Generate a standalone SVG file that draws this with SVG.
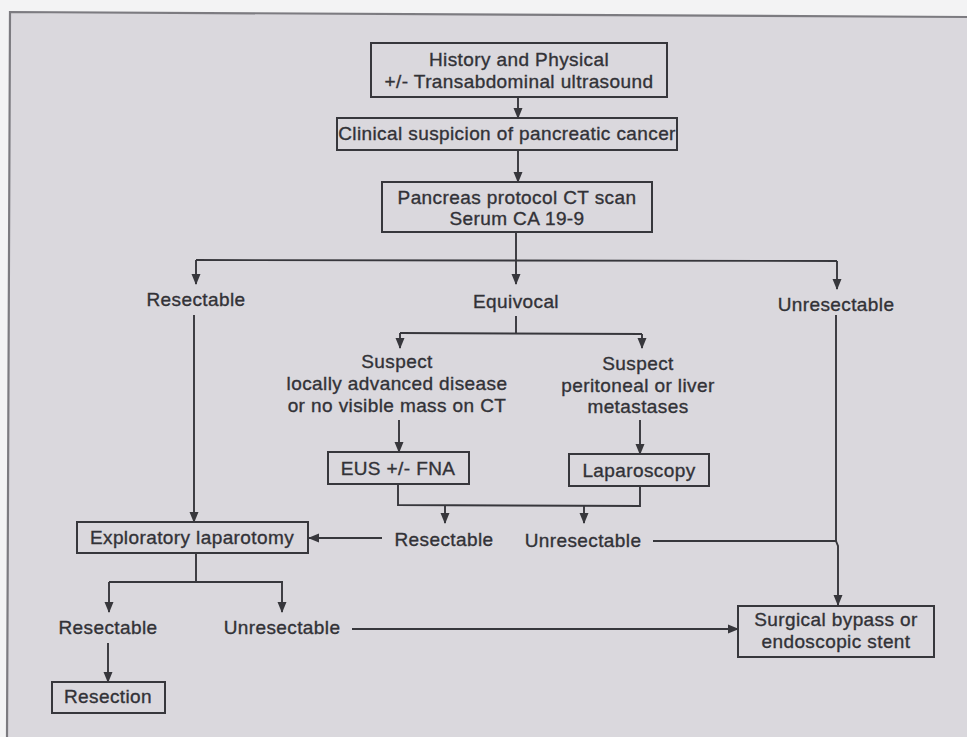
<svg xmlns="http://www.w3.org/2000/svg" width="967" height="737" viewBox="0 0 967 737">
  <defs>
    <marker id="arrow" markerUnits="userSpaceOnUse" markerWidth="11" markerHeight="10" refX="10" refY="5" orient="auto">
      <path d="M0,0.5 L11,5 L0,9.5 z" fill="#37373c"/>
    </marker>
    <style>
      .box { fill: none; stroke: #37373c; stroke-width: 2; }
      .line { fill: none; stroke: #37373c; stroke-width: 1.9; }
      .arr { fill: none; stroke: #37373c; stroke-width: 1.9; marker-end: url(#arrow); }
      text { font-family: "Liberation Sans", Arial, Helvetica, sans-serif; font-size: 19px; letter-spacing: 0.4px; fill: #323237; stroke: #323237; stroke-width: 0.35px; text-anchor: middle; }
    </style>
  </defs>

  <!-- page margin and printed panel -->
  <rect x="0" y="0" width="967" height="737" fill="#f3f3f4"/>
  <polygon points="10,12 967,17 967,737 7,737" fill="#dad8dd"/>
  <polyline points="7,737 10,12 967,17" fill="none" stroke="#7c7b80" stroke-width="2.2"/>

  <!-- connectors -->
  <g id="connectors">
    <line class="arr" x1="518" y1="97" x2="518" y2="118"/>
    <line class="arr" x1="518" y1="150" x2="518" y2="182"/>
    <line class="line" x1="516" y1="232" x2="516" y2="260"/>
    <polyline class="arr" points="196,260 196,284"/>
    <line class="line" x1="196" y1="260" x2="837" y2="261"/>
    <line class="arr" x1="516" y1="260" x2="516" y2="284"/>
    <polyline class="arr" points="837,261 837,289"/>

    <line class="line" x1="516" y1="316" x2="516" y2="333"/>
    <line class="line" x1="400" y1="333" x2="642" y2="334"/>
    <line class="arr" x1="400" y1="333" x2="400" y2="348"/>
    <line class="arr" x1="642" y1="334" x2="642" y2="348"/>

    <line class="arr" x1="399" y1="420" x2="399" y2="452"/>
    <line class="arr" x1="640" y1="420" x2="640" y2="454"/>

    <polyline class="line" points="398,484 398,505 640,506 640,486"/>
    <line class="arr" x1="445" y1="505" x2="445" y2="523"/>
    <line class="arr" x1="584" y1="506" x2="584" y2="523"/>

    <line class="arr" x1="382" y1="538" x2="309" y2="538"/>
    <line class="arr" x1="194" y1="315" x2="194" y2="522"/>

    <line class="line" x1="653" y1="541" x2="837" y2="541"/>
    <polyline class="arr" points="836,315 836,541 838,546 838,605"/>

    <line class="line" x1="196" y1="553" x2="196" y2="582"/>
    <line class="line" x1="109" y1="582" x2="283" y2="582"/>
    <line class="arr" x1="109" y1="582" x2="109" y2="612"/>
    <line class="arr" x1="282" y1="582" x2="282" y2="612"/>
    <line class="arr" x1="352" y1="629" x2="738" y2="629"/>
    <line class="arr" x1="108" y1="643" x2="108" y2="682"/>
  </g>

  <!-- nodes -->
  <g id="history">
    <rect class="box" x="371" y="43" width="296" height="54"/>
    <text x="519" y="66">History and Physical</text>
    <text x="519" y="88">+/- Transabdominal ultrasound</text>
  </g>
  <g id="suspicion">
    <rect class="box" x="337" y="118" width="340" height="32"/>
    <text x="507" y="140">Clinical suspicion of pancreatic cancer</text>
  </g>
  <g id="ct-scan">
    <rect class="box" x="382" y="182" width="270" height="50"/>
    <text x="517" y="204">Pancreas protocol CT scan</text>
    <text x="517" y="225">Serum CA 19-9</text>
  </g>

  <g id="resectable-1"><text x="196" y="306">Resectable</text></g>
  <g id="equivocal"><text x="516" y="308">Equivocal</text></g>
  <g id="unresectable-1"><text x="836" y="311">Unresectable</text></g>

  <g id="suspect-local">
    <text x="397" y="368">Suspect</text>
    <text x="397" y="390">locally advanced disease</text>
    <text x="397" y="412">or no visible mass on CT</text>
  </g>
  <g id="suspect-metastases">
    <text x="638" y="370">Suspect</text>
    <text x="638" y="392">peritoneal or liver</text>
    <text x="638" y="413">metastases</text>
  </g>

  <g id="eus">
    <rect class="box" x="328" y="452" width="141" height="32"/>
    <text x="398" y="475">EUS +/- FNA</text>
  </g>
  <g id="laparoscopy">
    <rect class="box" x="569" y="454" width="140" height="32"/>
    <text x="639" y="477">Laparoscopy</text>
  </g>

  <g id="resectable-2"><text x="444" y="546">Resectable</text></g>
  <g id="unresectable-2"><text x="583" y="547">Unresectable</text></g>

  <g id="exploratory">
    <rect class="box" x="77" y="522" width="231" height="31"/>
    <text x="192" y="544">Exploratory laparotomy</text>
  </g>

  <g id="resectable-3"><text x="108" y="634">Resectable</text></g>
  <g id="unresectable-3"><text x="282" y="634">Unresectable</text></g>

  <g id="resection">
    <rect class="box" x="52" y="682" width="113" height="31"/>
    <text x="108" y="703">Resection</text>
  </g>

  <g id="bypass">
    <rect class="box" x="738" y="606" width="196" height="51"/>
    <text x="836" y="626">Surgical bypass or</text>
    <text x="836" y="648">endoscopic stent</text>
  </g>
</svg>
